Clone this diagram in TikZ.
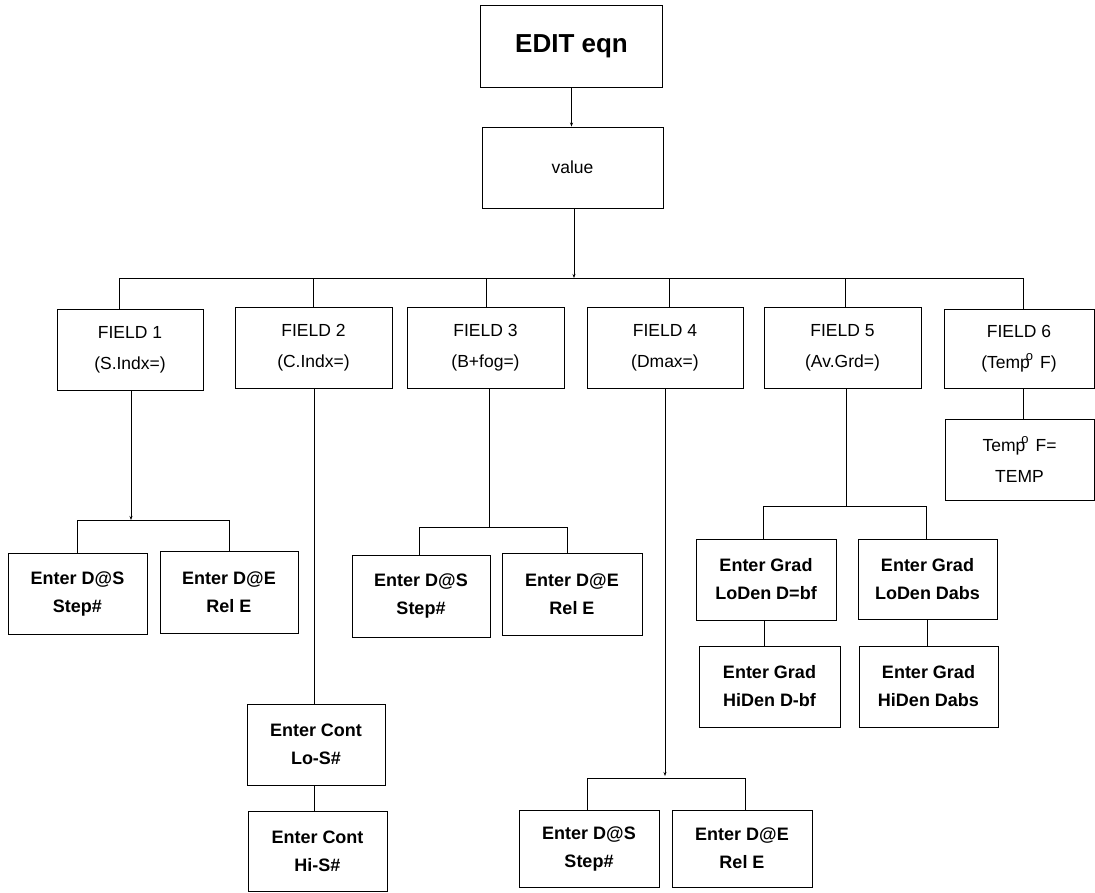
\documentclass[tikz,border=0pt]{standalone}
\usepackage{fontspec}
\setmainfont{Liberation Sans}
\usetikzlibrary{arrows.meta}
\tikzset{
  box/.style={draw, line width=0.9pt, inner sep=0pt, align=center, minimum width=#1},
  box/.default=139pt,
  fld/.style={box=156pt, minimum height=81pt, font=\fontsize{17.5}{31}\selectfont},
  ent/.style={minimum height=81pt, font=\bfseries\fontsize{18}{28}\selectfont},
  ln/.style={line width=0.8pt},
  arr/.style={ln, -{Stealth[length=4pt,width=3pt]}},
}
\newcommand{\degT}{Temp\hspace{-4pt}\raisebox{8pt}{\fontsize{13}{13}\selectfont o}\hspace{7pt}F}
\begin{document}
\begin{tikzpicture}[x=1pt,y=-1pt]
\useasboundingbox (0,0) rectangle (1095,892);
% top
\node[box=182pt, minimum height=82pt, font=\bfseries\fontsize{26}{30}\selectfont] (top) at (571.5,46) {EDIT eqn};
\node[box=181pt, minimum height=81pt, font=\fontsize{17.5}{31}\selectfont] (val) at (572.5,167.5) {value};
% fields
\node[fld, minimum width=146pt] (f1) at (130,350) {FIELD 1\\(S.Indx=)};
\node[fld, minimum width=157pt] (f2) at (313.5,347.5) {FIELD 2\\(C.Indx=)};
\node[fld, minimum width=157pt] (f3) at (485.5,348) {FIELD 3\\(B+fog=)};
\node[fld] (f4) at (665,348) {FIELD 4\\(Dmax=)};
\node[fld, minimum width=157pt] (f5) at (842.5,348) {FIELD 5\\(Av.Grd=)};
\node[fld, minimum width=150pt, minimum height=79pt] (f6) at (1019,348.5) {FIELD 6\\(\degT)};
\node[box=149pt, minimum height=81pt, font=\fontsize{17.5}{31}\selectfont] (t6) at (1019.5,459.5) {\degT=\\TEMP};
% field 1 children
\node[box, ent] (a1) at (77.5,593.5) {Enter D@S\\Step\#};
\node[box=138pt, ent, minimum height=82pt] (b1) at (229,592) {Enter D@E\\Rel E};
% field 2 children
\node[box=138pt, ent] (c2) at (316,744.5) {Enter Cont\\Lo-S\#};
\node[box, ent, minimum height=80pt] (d2) at (317.5,851) {Enter Cont\\Hi-S\#};
% field 3 children
\node[box=138pt, ent, minimum height=82pt] (a3) at (421,596) {Enter D@S\\Step\#};
\node[box=140pt, ent, minimum height=82pt] (b3) at (572,594) {Enter D@E\\Rel E};
% field 4 children
\node[box=140pt, ent, minimum height=77pt] (a4) at (589,848.5) {Enter D@S\\Step\#};
\node[box=140pt, ent, minimum height=77pt] (b4) at (742,848.5) {Enter D@E\\Rel E};
% field 5 children
\node[box=140pt, ent] (g1) at (766,579.5) {Enter Grad\\LoDen D=bf};
\node[box, ent, minimum height=80pt] (g2) at (927.5,579) {Enter Grad\\LoDen Dabs};
\node[box=141pt, ent] (h1) at (769.5,686.5) {Enter Grad\\HiDen D-bf};
\node[box, ent] (h2) at (928.5,686.5) {Enter Grad\\HiDen Dabs};
% top connectors
\draw[arr] (top.south) -- (top.south |- val.north);
\coordinate (bus) at (574,278);
\draw[arr] (val.south -| bus) -- (bus);
\coordinate (bl) at (119,278);
\coordinate (br) at (1023,278);
\draw[ln] (bl) -- (br);
\coordinate (p1) at (119,278);
\coordinate (p2) at (313,278);
\coordinate (p3) at (486,278);
\coordinate (p4) at (669,278);
\coordinate (p5) at (845,278);
\coordinate (p6) at (1023,278);
\foreach \i in {1,...,6} {\draw[ln] (p\i) -- (p\i |- f\i.north);}
\draw[ln] (f6.south -| p6) -- (t6.north -| p6);
% field 1 subtree
\coordinate (s1) at (131,520);
\draw[arr] (f1.south -| s1) -- (s1);
\coordinate (s1l) at (77,520);
\coordinate (s1r) at (229,520);
\draw[ln] (a1.north -| s1l) -- (s1l) -- (s1r) -- (b1.north -| s1r);
% field 2 subtree
\coordinate (s2) at (314,388);
\draw[ln] (f2.south -| s2) -- (c2.north -| s2);
\draw[ln] (c2.south -| s2) -- (d2.north -| s2);
% field 3 subtree
\coordinate (s3) at (489,527);
\draw[ln] (f3.south -| s3) -- (s3);
\coordinate (s3l) at (419,527);
\coordinate (s3r) at (567,527);
\draw[ln] (a3.north -| s3l) -- (s3l) -- (s3r) -- (b3.north -| s3r);
% field 4 subtree
\coordinate (s4) at (665,776);
\draw[arr] (f4.south -| s4) -- (s4);
\coordinate (s4l) at (587,778);
\coordinate (s4r) at (745,778);
\draw[ln] (a4.north -| s4l) -- (s4l) -- (s4r) -- (b4.north -| s4r);
% field 5 subtree
\coordinate (s5) at (846,506);
\draw[ln] (f5.south -| s5) -- (s5);
\coordinate (s5l) at (763,506);
\coordinate (s5r) at (926,506);
\draw[ln] (g1.north -| s5l) -- (s5l) -- (s5r) -- (g2.north -| s5r);
\coordinate (s5a) at (764,620);
\coordinate (s5b) at (927,620);
\draw[ln] (g1.south -| s5a) -- (h1.north -| s5a);
\draw[ln] (g2.south -| s5b) -- (h2.north -| s5b);
\end{tikzpicture}
\end{document}
